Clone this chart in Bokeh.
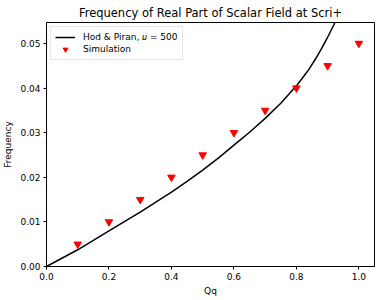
from bokeh.plotting import figure
from bokeh.models import FixedTicker, NumeralTickFormatter, Range1d, Legend, LegendItem
from bokeh.embed import file_html
from bokeh.resources import INLINE

# Hod & Piran curve (u = 500)
theory_qq = [0.0, 0.1, 0.2, 0.3, 0.4, 0.45, 0.5, 0.55, 0.6, 0.65, 0.7, 0.75, 0.8,
             0.82, 0.84, 0.86, 0.88, 0.9, 0.92, 0.94]
theory_freq = [0.0, 0.00375, 0.0080, 0.0122, 0.0167, 0.0191, 0.0216, 0.0243, 0.0272, 0.0301,
               0.0332, 0.0366, 0.0405, 0.0423, 0.0442, 0.0464, 0.0488, 0.0514, 0.0542, 0.0573]

# Simulation points
sim_qq = [0.1, 0.2, 0.3, 0.4, 0.5, 0.6, 0.7, 0.8, 0.9, 1.0]
sim_freq = [0.005, 0.010, 0.015, 0.020, 0.025, 0.030, 0.035, 0.040, 0.045, 0.050]

x_ticks = [0.0, 0.2, 0.4, 0.6, 0.8, 1.0]
y_ticks = [0.00, 0.01, 0.02, 0.03, 0.04, 0.05]

FONT = "DejaVu Sans"

p = figure(width=373, height=292, output_backend="svg", toolbar_location=None,
           x_range=Range1d(0.0, 1.05), y_range=Range1d(0.0, 0.0547),
           title="Frequency of Real Part of Scalar Field at Scri+",
           min_border_left=4, min_border_right=7, min_border_bottom=4, min_border_top=0)
p.frame_width = 328
p.frame_height = 244

p.title.align = "center"
p.title.text_font = FONT
p.title.text_font_size = "11.5px"
p.title.text_font_style = "normal"
p.title.text_color = "black"
p.title.offset = 0
p.title.standoff = 6

p.xgrid.visible = False
p.ygrid.visible = False
p.outline_line_color = "black"
p.outline_line_width = 1
p.outline_line_alpha = 1

for ax in (p.xaxis[0], p.yaxis[0]):
    ax.axis_line_color = "black"
    ax.major_tick_line_color = "black"
    ax.major_tick_in = 0
    ax.major_tick_out = 3
    ax.minor_tick_line_color = None
    ax.major_label_text_font = FONT
    ax.major_label_text_font_size = "9px"
    ax.major_label_text_color = "black"
    ax.axis_label_text_font = FONT
    ax.axis_label_text_font_size = "9px"
    ax.axis_label_text_font_style = "normal"
    ax.axis_label_text_color = "black"
    ax.major_label_standoff = 3

p.xaxis.ticker = FixedTicker(ticks=x_ticks)
p.yaxis.ticker = FixedTicker(ticks=y_ticks)
p.xaxis.formatter = NumeralTickFormatter(format="0.0")
p.yaxis.formatter = NumeralTickFormatter(format="0.00")
p.xaxis.axis_label = "Qq"
p.yaxis.axis_label = "Frequency"
p.xaxis.axis_label_standoff = 3
p.yaxis.axis_label_standoff = 4

r_line = p.line(theory_qq, theory_freq, line_color="black", line_width=1.5)
r_sim = p.scatter(sim_qq, sim_freq, marker="inverted_triangle", size=7.5,
                  fill_color="red", line_color="red")

legend = Legend(items=[LegendItem(label="Hod & Piran, 𝑢 = 500", renderers=[r_line]),
                       LegendItem(label="Simulation", renderers=[r_sim])],
                location="top_left")
legend.label_text_font = FONT
legend.label_text_font_size = "9px"
legend.label_text_color = "black"
legend.border_line_color = "#cccccc"
legend.border_line_width = 1
legend.background_fill_alpha = 0.8
legend.margin = 4
legend.padding = 4
legend.spacing = 0
legend.glyph_width = 20
legend.glyph_height = 12
legend.label_standoff = 8
legend.label_height = 12
p.add_layout(legend, "center")

open("out.html", "w").write(file_html(p, INLINE))
